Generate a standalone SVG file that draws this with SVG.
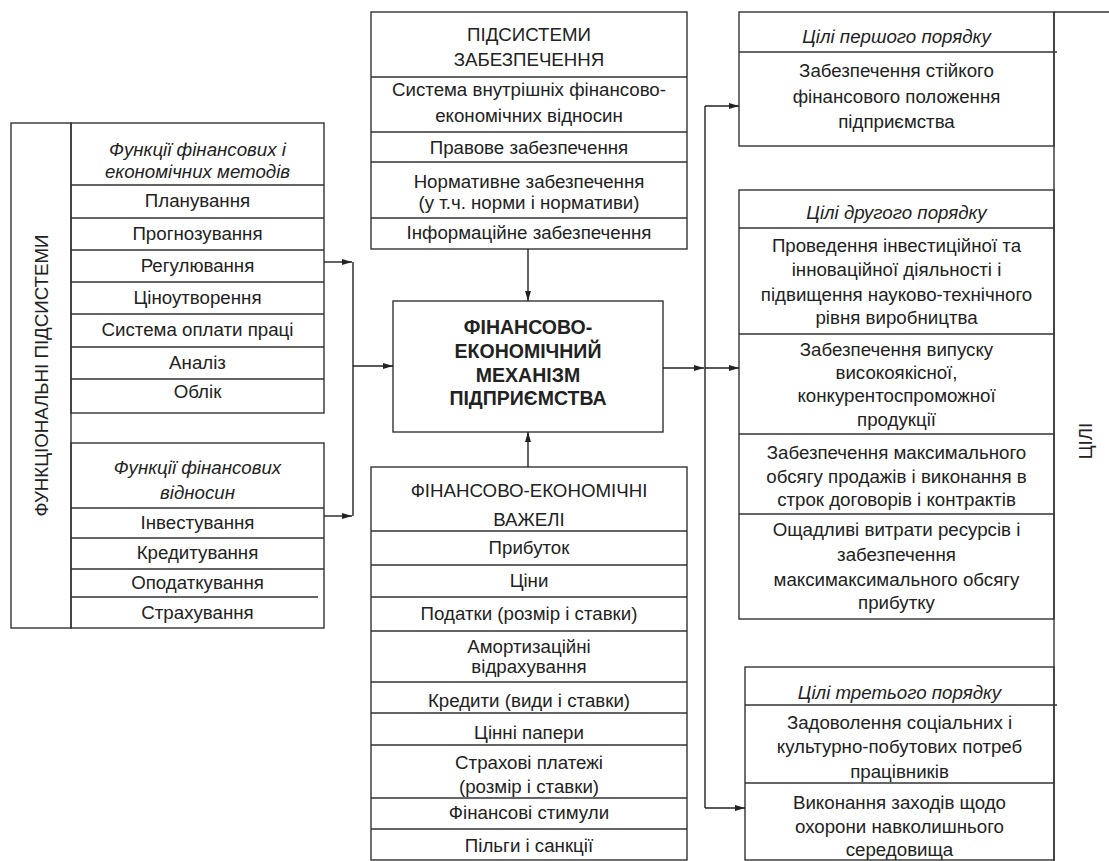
<svg xmlns="http://www.w3.org/2000/svg" width="1109" height="861" viewBox="0 0 1109 861">
<defs>
<style>
.bx{fill:none;stroke:#333;stroke-width:1.4}
.ln{fill:none;stroke:#333;stroke-width:1.4}
.t{font-family:"Liberation Sans",Arial,sans-serif;font-size:18.7px;fill:#222;text-anchor:middle}
.i{font-style:italic}
.b{font-weight:bold;font-size:19.5px}
.c{fill:none;stroke:#222;stroke-width:1.4}
</style>
<marker id="ar" viewBox="0 0 10 8" refX="10" refY="4" markerWidth="10" markerHeight="8" markerUnits="userSpaceOnUse" orient="auto">
<path d="M0,1 L10,4 L0,7 Z" fill="#222"/>
</marker>
</defs>
<rect width="1109" height="861" fill="#fff"/>

<g id="functional-subsystems">
<rect class="bx" x="11" y="123" width="60" height="505"/>
<text class="t" transform="translate(47.5,375.5) rotate(-90)">ФУНКЦІОНАЛЬНІ ПІДСИСТЕМИ</text>
</g>

<g id="fin-econ-methods">
<rect class="bx" x="71" y="123" width="253" height="290"/>
<path class="ln" d="M71,185H324M71,218H324M71,250H324M71,282H324M71,314H324M71,347H324M71,379H324"/>
<text class="t i" x="197.5" y="156">Функції фінансових і</text>
<text class="t i" x="197.5" y="178">економічних методів</text>
<text class="t" x="197.5" y="207">Планування</text>
<text class="t" x="197.5" y="240">Прогнозування</text>
<text class="t" x="197.5" y="272">Регулювання</text>
<text class="t" x="197.5" y="304">Ціноутворення</text>
<text class="t" x="197.5" y="336">Система оплати праці</text>
<text class="t" x="197.5" y="369">Аналіз</text>
<text class="t" x="197.5" y="398">Облік</text>
</g>

<g id="fin-relations">
<rect class="bx" x="71" y="443" width="253" height="185"/>
<path class="ln" d="M71,508H324M71,538H324M71,569H324M71,597H318"/>
<text class="t i" x="197.5" y="474">Функції фінансових</text>
<text class="t i" x="197.5" y="499">відносин</text>
<text class="t" x="197.5" y="529">Інвестування</text>
<text class="t" x="197.5" y="559">Кредитування</text>
<text class="t" x="197.5" y="589">Оподаткування</text>
<text class="t" x="197.5" y="619">Страхування</text>
</g>

<g id="support-subsystems">
<rect class="bx" x="371" y="12" width="316" height="237"/>
<path class="ln" d="M371,77H687M371,132H687M371,162H687M371,218H687"/>
<text class="t" x="529" y="41">ПІДСИСТЕМИ</text>
<text class="t" x="529" y="66">ЗАБЕЗПЕЧЕННЯ</text>
<text class="t" x="529" y="96">Система внутрішніх фінансово-</text>
<text class="t" x="529" y="122">економічних відносин</text>
<text class="t" x="529" y="154">Правове забезпечення</text>
<text class="t" x="529" y="188">Нормативне забезпечення</text>
<text class="t" x="529" y="209">(у т.ч. норми і нормативи)</text>
<text class="t" x="529" y="239">Інформаційне забезпечення</text>
</g>

<g id="mechanism">
<rect class="bx" x="393" y="301" width="270" height="131"/>
<text class="t b" x="528" y="334">ФІНАНСОВО-</text>
<text class="t b" x="528" y="358">ЕКОНОМІЧНИЙ</text>
<text class="t b" x="528" y="382">МЕХАНІЗМ</text>
<text class="t b" x="528" y="405">ПІДПРИЄМСТВА</text>
</g>

<g id="levers">
<rect class="bx" x="371" y="467" width="316" height="393"/>
<path class="ln" d="M371,531H687M371,565H687M371,597H687M371,631H687M371,682H687M371,713H687M371,745H687M371,798H687M371,829H687"/>
<text class="t" x="529" y="497">ФІНАНСОВО-ЕКОНОМІЧНІ</text>
<text class="t" x="529" y="526">ВАЖЕЛІ</text>
<text class="t" x="529" y="554">Прибуток</text>
<text class="t" x="529" y="587">Ціни</text>
<text class="t" x="529" y="620">Податки (розмір і ставки)</text>
<text class="t" x="529" y="653">Амортизаційні</text>
<text class="t" x="529" y="673">відрахування</text>
<text class="t" x="529" y="707">Кредити (види і ставки)</text>
<text class="t" x="529" y="739">Цінні папери</text>
<text class="t" x="529" y="769">Страхові платежі</text>
<text class="t" x="529" y="793">(розмір і ставки)</text>
<text class="t" x="529" y="819">Фінансові стимули</text>
<text class="t" x="529" y="852">Пільги і санкції</text>
</g>

<g id="goals-first">
<rect class="bx" x="739" y="12" width="315" height="134"/>
<path class="ln" d="M739,52H1057"/>
<text class="t i" x="896.5" y="43">Цілі першого порядку</text>
<text class="t" x="896.5" y="77">Забезпечення стійкого</text>
<text class="t" x="896.5" y="103">фінансового положення</text>
<text class="t" x="896.5" y="128">підприємства</text>
</g>

<g id="goals-second">
<rect class="bx" x="739" y="190" width="315" height="429"/>
<path class="ln" d="M739,228H1054M739,334H1054M739,434H1054M739,514H1054"/>
<text class="t i" x="896.5" y="219">Цілі другого порядку</text>
<text class="t" x="896.5" y="252">Проведення інвестиційної та</text>
<text class="t" x="896.5" y="276">інноваційної діяльності і</text>
<text class="t" x="896.5" y="301">підвищення науково-технічного</text>
<text class="t" x="896.5" y="324">рівня виробництва</text>
<text class="t" x="896.5" y="356">Забезпечення випуску</text>
<text class="t" x="896.5" y="379">високоякісної,</text>
<text class="t" x="896.5" y="402">конкурентоспроможної</text>
<text class="t" x="896.5" y="426">продукції</text>
<text class="t" x="896.5" y="459">Забезпечення максимального</text>
<text class="t" x="896.5" y="483">обсягу продажів і виконання в</text>
<text class="t" x="896.5" y="506">строк договорів і контрактів</text>
<text class="t" x="896.5" y="536">Ощадливі витрати ресурсів і</text>
<text class="t" x="896.5" y="561">забезпечення</text>
<text class="t" x="896.5" y="586">максимаксимального обсягу</text>
<text class="t" x="896.5" y="609">прибутку</text>
</g>

<g id="goals-third">
<rect class="bx" x="745" y="667" width="309" height="193"/>
<path class="ln" d="M745,705H1057M745,783H1054"/>
<text class="t i" x="899.5" y="699">Цілі третього порядку</text>
<text class="t" x="899.5" y="729">Задоволення соціальних і</text>
<text class="t" x="899.5" y="753">культурно-побутових потреб</text>
<text class="t" x="899.5" y="778">працівників</text>
<text class="t" x="899.5" y="809">Виконання заходів щодо</text>
<text class="t" x="899.5" y="833">охорони навколишнього</text>
<text class="t" x="899.5" y="856">середовища</text>
</g>

<g id="goals">
<path class="ln" d="M1054,12V861M1054,12H1109"/>
<text class="t" transform="translate(1091.5,441) rotate(-90)">ЦІЛІ</text>
</g>

<g id="connectors">
<path class="c" d="M324,262H352" marker-end="url(#ar)"/>
<path class="c" d="M324,516H352" marker-end="url(#ar)"/>
<path class="c" d="M353,262V516"/>
<path class="c" d="M353,366H393" marker-end="url(#ar)"/>
<path class="c" d="M528,249V301" marker-end="url(#ar)"/>
<path class="c" d="M528,467V432" marker-end="url(#ar)"/>
<path class="c" d="M663,368H704" marker-end="url(#ar)"/>
<path class="c" d="M705,106V808"/>
<path class="c" d="M705,106H739" marker-end="url(#ar)"/>
<path class="c" d="M705,368H739" marker-end="url(#ar)"/>
<path class="c" d="M705,808H745" marker-end="url(#ar)"/>
</g>
</svg>
